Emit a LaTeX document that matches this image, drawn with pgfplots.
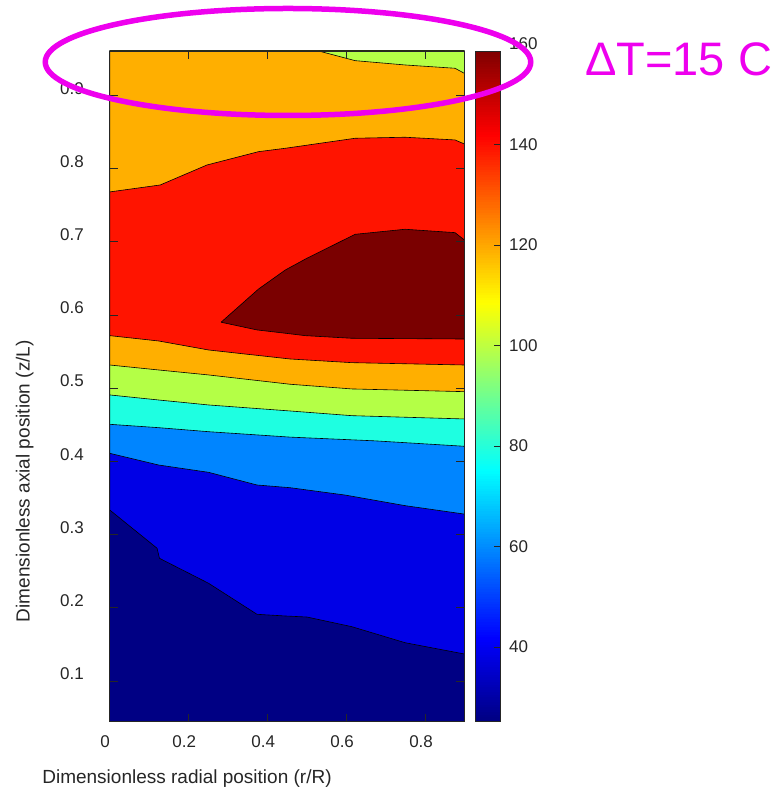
\documentclass[border=0pt]{standalone}
\usepackage{fontspec}
\setmainfont{Liberation Sans}
\usepackage{pgfplots}
\pgfplotsset{compat=1.18}
\definecolor{cNavy}{RGB}{0,0,132}
\definecolor{cBlue}{RGB}{0,0,230}
\definecolor{cAzure}{RGB}{0,133,255}
\definecolor{cCyan}{RGB}{30,255,225}
\definecolor{cYG}{RGB}{180,255,70}
\definecolor{cOrange}{RGB}{255,175,0}
\definecolor{cRed}{RGB}{255,20,0}
\definecolor{cDark}{RGB}{122,0,0}
\definecolor{txt}{RGB}{38,38,38}
\definecolor{mag}{RGB}{238,0,238}
\newcommand{\tickfont}{\fontsize{17}{20}\selectfont}
\newcommand{\labfont}{\fontsize{19}{22}\selectfont}
\begin{document}
\begin{tikzpicture}
\useasboundingbox (0,0) rectangle (775pt,789pt);
\begin{axis}[
  at={(109.7pt,67.3pt)}, anchor=south west,
  scale only axis, width=354.6pt, height=670.7pt,
  xmin=0, xmax=0.898, ymin=0.0444, ymax=0.9605,
  axis on top,
  xtick={0,0.2,0.4,0.6,0.8},
  ytick={0.1,0.2,0.3,0.4,0.5,0.6,0.7,0.8,0.9},
  tick align=inside,
  major tick length=8pt,
  every tick/.style={txt, line width=0.8pt},
  axis line style={txt, line width=0.8pt},
  /pgf/number format/assume math mode=true,
  ticklabel style={font=\tickfont, text=txt, inner sep=0pt},
  xticklabel style={anchor=north, yshift=-13.3pt, xshift=-4.5pt},
  yticklabel style={anchor=east, xshift=-25.7pt, yshift=7pt},
  xlabel={Dimensionless radial position (r/R)},
  ylabel={Dimensionless axial position (z/L)},
  label style={font=\labfont, text=txt, inner sep=0pt},
  xlabel style={at={(rel axis cs:0.218,-0.0914)}, anchor=base},
  ylabel style={at={(rel axis cs:-0.2259,0.3586)}, anchor=base},
  colorbar sampled,
  colormap/jet,
  point meta min=25.13, point meta max=158.6,
  colorbar style={
    samples=268,
    at={(parent axis.north east)}, anchor=north west, xshift=2.9pt,
    scale only axis, width=24.3pt, height=670.7pt,
    ytick={40,60,80,100,120,140},
    ytick pos=right,
    tick align=inside,
    major tick length=6pt,
    every tick/.style={txt, line width=0.8pt},
    axis line style={txt, line width=0.8pt},
    axis on top,
    /pgf/number format/assume math mode=true,
    yticklabel style={font=\tickfont, text=txt, inner sep=0pt, anchor=west, xshift=9pt},
    extra description/.code={\node[anchor=west, inner sep=0pt, font=\tickfont, text=txt] at ([xshift=9pt]rel axis cs:1,1.0105) {160};},
  },
]
% background (lowest band)
\addplot[fill=cNavy, draw=none] coordinates {(0,0.0444) (0.898,0.0444) (0.898,0.9605) (0,0.9605) (0,0.0444)};
% blue: above L1
\addplot[fill=cBlue, draw=black, line width=0.6pt, line join=round] coordinates {
(0,0.3336) (0.120,0.2813) (0.126,0.2676) (0.2506,0.2334) (0.373,0.1911) (0.4445,0.1888) (0.4994,0.1874) (0.613,0.1742) (0.748,0.1523) (0.898,0.1369) (0.898,0.9605) (0,0.9605) (0,0.3336)};
% azure: above L2
\addplot[fill=cAzure, draw=black, line width=0.6pt, line join=round] coordinates {
(0,0.411) (0.124,0.395) (0.2506,0.385) (0.373,0.3677) (0.457,0.364) (0.596,0.354) (0.748,0.3395) (0.898,0.328) (0.898,0.9605) (0,0.9605) (0,0.411)};
% cyan: above L3
\addplot[fill=cCyan, draw=black, line width=0.6pt, line join=round] coordinates {
(0,0.4506) (0.124,0.446) (0.2506,0.4405) (0.457,0.4331) (0.672,0.428) (0.898,0.4206) (0.898,0.9605) (0,0.9605) (0,0.4506)};
% yellow-green: above L4
\addplot[fill=cYG, draw=black, line width=0.6pt, line join=round] coordinates {
(0,0.4907) (0.124,0.4838) (0.2506,0.477) (0.457,0.4688) (0.613,0.4624) (0.898,0.4579) (0.898,0.9605) (0,0.9605) (0,0.4907)};
% orange: above L5
\addplot[fill=cOrange, draw=black, line width=0.6pt, line join=round] coordinates {
(0,0.5316) (0.124,0.5248) (0.2506,0.518) (0.457,0.5053) (0.613,0.4989) (0.898,0.4952) (0.898,0.9605) (0,0.9605) (0,0.5316)};
% red band
\addplot[fill=cRed, draw=black, line width=0.6pt, line join=round] coordinates {
(0,0.5717) (0.124,0.5644) (0.2506,0.5521) (0.457,0.5398) (0.613,0.5348) (0.898,0.5316)
(0.898,0.8335) (0.8744,0.839) (0.748,0.8427) (0.6215,0.8413) (0.4445,0.8276) (0.377,0.823) (0.2465,0.8048) (0.128,0.7775) (0,0.768) (0,0.5717)};
% dark red core
\addplot[fill=cDark, draw=black, line width=0.6pt, line join=round] coordinates {
(0.282,0.590) (0.377,0.6354) (0.4445,0.6613) (0.4994,0.6774) (0.6215,0.7101) (0.748,0.717) (0.8744,0.7124) (0.898,0.7025)
(0.898,0.5671) (0.613,0.5681) (0.495,0.5717) (0.4445,0.575) (0.373,0.5795) (0.282,0.590)};
% top-right green
\addplot[fill=cYG, draw=black, line width=0.6pt, line join=round] coordinates {
(0.529,0.9605) (0.6215,0.9473) (0.748,0.9414) (0.8744,0.9369) (0.898,0.930) (0.898,0.9605) (0.529,0.9605)};
\end{axis}
\node[anchor=base west, inner sep=0pt, text=mag, font=\fontsize{47}{50}\selectfont] at (585pt,713pt) {ΔT=15 C};
\draw[mag, line width=5.5pt] (288pt,727pt) ellipse [x radius=242.75pt, y radius=53.5pt];
\end{tikzpicture}
\end{document}
